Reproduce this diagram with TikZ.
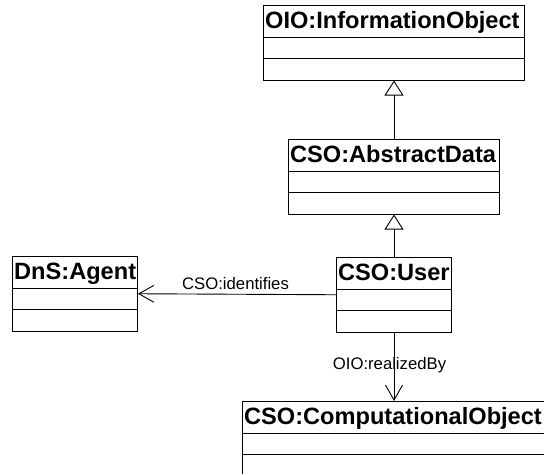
\documentclass[tikz,border=0pt]{standalone}
\usepackage{fontspec}
\setmainfont{Liberation Sans}
\usetikzlibrary{arrows.meta}

% class box: name, x, y (top left), width, title
\newcommand\umlclass[5]{%
  \node[classbox, minimum width=#4pt, anchor=north west] (#1) at (#2,#3) {};
  \node[classtitle, anchor=base west] at ([xshift=2pt,yshift=-23.5pt]#1.north west) {#5};
  \draw[divider] ([yshift=-32.5pt]#1.north west) -- ([yshift=-32.5pt]#1.north east);
  \draw[divider] ([yshift=-53.5pt]#1.north west) -- ([yshift=-53.5pt]#1.north east);
}

\tikzset{
  classbox/.style={draw=black, line width=1pt, rectangle, inner sep=0pt,
    minimum height=74.5pt},
  classtitle/.style={inner sep=0pt, font=\fontsize{23.6}{26}\selectfont\bfseries},
  divider/.style={line width=1pt},
  generalization/.style={line width=0.9pt,
    -{Triangle[open, length=15pt, width=19pt, line width=0.9pt]}},
  association/.style={line width=0.9pt,
    -{Straight Barb[length=15pt, width=17pt, line width=0.9pt]}},
  lbl/.style={inner sep=0pt, font=\fontsize{16.7}{19}\selectfont},
}

\begin{document}
\begin{tikzpicture}[x=1pt, y=-1pt]
  \useasboundingbox[fill=white] (0,0) rectangle (544,474);

  \umlclass{oio}{263}{5}{261}{OIO:InformationObject}
  \umlclass{ad}{288}{139}{211}{CSO:AbstractData}
  \umlclass{user}{336}{257}{115}{CSO:User}
  \umlclass{agent}{12}{256}{125}{DnS:Agent}
  \umlclass{co}{242}{401}{303}{CSO:ComputationalObject}

  % inheritance
  \draw[generalization] (ad.north) -- (oio.south);
  \draw[generalization] (user.north) -- (ad.south);

  % associations
  \draw[association] (user.west) -- (agent.east)
    node[lbl, pos=0.5075, anchor=base, yshift=4.8pt] {CSO:identifies};
  \draw[association] (user.south) -- (co.north)
    node[lbl, pos=0.544, anchor=base, xshift=-4.5pt] {OIO:realizedBy};
\end{tikzpicture}
\end{document}
